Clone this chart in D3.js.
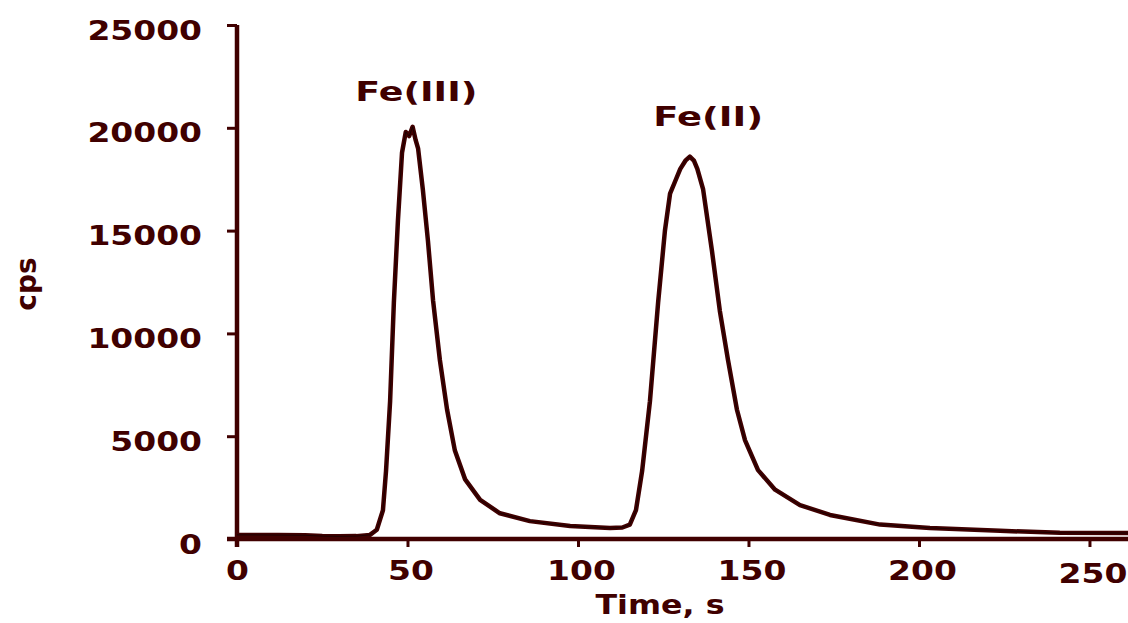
<!DOCTYPE html>
<html>
<head>
<meta charset="utf-8">
<script src="https://cdn.jsdelivr.net/npm/d3@7"></script>
<style>
  body { margin: 0; background: #fff; }
  svg { display: block; }
</style>
</head>
<body>
<svg id="chart" width="1128" height="623"></svg>
<script>
// elution profile
var time = [0, 5, 12, 20, 25, 30, 35, 39, 41, 42.8, 43.7, 44.9, 46.0, 47.2, 48.4, 49.5, 50.5, 51.5, 52.4, 53.1,
    54.5, 56.0, 57.5, 59.5, 61.6, 63.9, 66.9, 71.3, 77.1, 85.9, 97.7, 109.4, 113, 115.2, 117.0, 118.8, 121.1,
    123.5, 125.5, 127.0, 128.5, 130.0, 131.5, 132.8, 134.0, 135.0, 136.7, 139.3, 141.6, 144.0, 146.6, 149.0,
    152.8, 157.8, 165.1, 173.9, 188.6, 203.2, 223.8, 241.3, 261.3];
var cps = [200, 200, 190, 180, 140, 130, 140, 200, 450, 1400, 3300, 6700, 11500, 15500, 18800, 19800, 19600, 20050, 19400, 19000,
    17000, 14500, 11600, 8700, 6300, 4300, 2900, 1900, 1250, 870, 630, 530, 560, 700, 1400, 3300, 6700,
    11500, 15000, 16800, 17400, 18000, 18400, 18600, 18400, 18000, 17000, 14000, 11100, 8700, 6300, 4800,
    3350, 2400, 1650, 1170, 700, 540, 400, 300, 290];

var xTicks = [0, 50, 100, 150, 200, 250];
var yTicks = [0, 5000, 10000, 15000, 20000, 25000];

var peakNames = ["Fe(III)", "Fe(II)"];
var peakTime = [52.6, 138.2];
var peakLabelValue = [21300, 20090];

var data = time.map(function (t, i) { return { t: t, v: cps[i] }; });

var maroon = "#400000";
var font = "'DejaVu Sans', Verdana, sans-serif";
var stretch = 1.22;

var svg = d3.select("#chart");

var x = d3.scaleLinear().domain([0, 261.3]).range([237, 1128]);
var y = d3.scaleLinear().domain([0, 25000]).range([539, 25]);

// x axis
var gx = svg.append("g").attr("transform", "translate(0," + y(0) + ")")
    .call(d3.axisBottom(x).tickValues(xTicks).tickSize(8).tickSizeOuter(0).tickFormat(d3.format("d")));
gx.select(".domain").attr("stroke", maroon).attr("stroke-width", 4.5)
    .attr("d", "M" + (x(0) - 10) + ",0H1128");
gx.selectAll(".tick line").attr("stroke", maroon).attr("stroke-width", 3);
gx.selectAll(".tick text")
    .attr("fill", maroon).attr("font-family", font).attr("font-weight", "bold").attr("font-size", 27)
    .attr("y", 0).attr("dy", 0)
    .attr("transform", function (d) { return "translate(" + (d === 0 ? 0 : 3) + "," + (d === 250 ? 44 : 41) + ") scale(" + stretch + ",1)"; });

// y axis
var gy = svg.append("g").attr("transform", "translate(" + x(0) + ",0)")
    .call(d3.axisLeft(y).tickValues(yTicks).tickSize(10).tickSizeOuter(0).tickFormat(d3.format("d")));
gy.select(".domain").attr("stroke", maroon).attr("stroke-width", 4.5)
    .attr("d", "M0," + y(25000) + "V" + (y(0) + 8));
gy.selectAll(".tick line").attr("stroke", maroon).attr("stroke-width", 3);
gy.selectAll(".tick text")
    .attr("fill", maroon).attr("font-family", font).attr("font-weight", "bold").attr("font-size", 27)
    .attr("x", 0).attr("dy", 0)
    .attr("transform", "translate(-35,14) scale(" + stretch + ",1)");

// axis titles
svg.append("text")
    .attr("transform", "translate(660,614) scale(" + stretch + ",1)")
    .attr("text-anchor", "middle")
    .attr("fill", maroon).attr("font-family", font).attr("font-weight", "bold").attr("font-size", 26)
    .text("Time, s");

svg.append("text")
    .attr("transform", "translate(36,284) rotate(-90)")
    .attr("text-anchor", "middle")
    .attr("fill", maroon).attr("font-family", font).attr("font-weight", "bold").attr("font-size", 28)
    .text("cps");

// trace: thick maroon with a thin dark core
var line = d3.line()
    .x(function (d) { return x(d.t); })
    .y(function (d) { return y(d.v); });

svg.append("path").datum(data)
    .attr("d", line).attr("fill", "none")
    .attr("stroke", maroon).attr("stroke-width", 4.5).attr("stroke-linejoin", "round");
svg.append("path").datum(data)
    .attr("d", line).attr("fill", "none")
    .attr("stroke", "#000").attr("stroke-width", 1).attr("stroke-opacity", 0.6);

// peak labels
var labelWidth = [122, 110];
peakNames.forEach(function (name, i) {
    svg.append("text")
        .attr("x", x(peakTime[i]) - labelWidth[i] / 2)
        .attr("y", y(peakLabelValue[i]))
        .attr("textLength", labelWidth[i]).attr("lengthAdjust", "spacingAndGlyphs")
        .attr("fill", maroon).attr("font-family", font).attr("font-weight", "bold").attr("font-size", 27)
        .text(name);
});
</script>
</body>
</html>
